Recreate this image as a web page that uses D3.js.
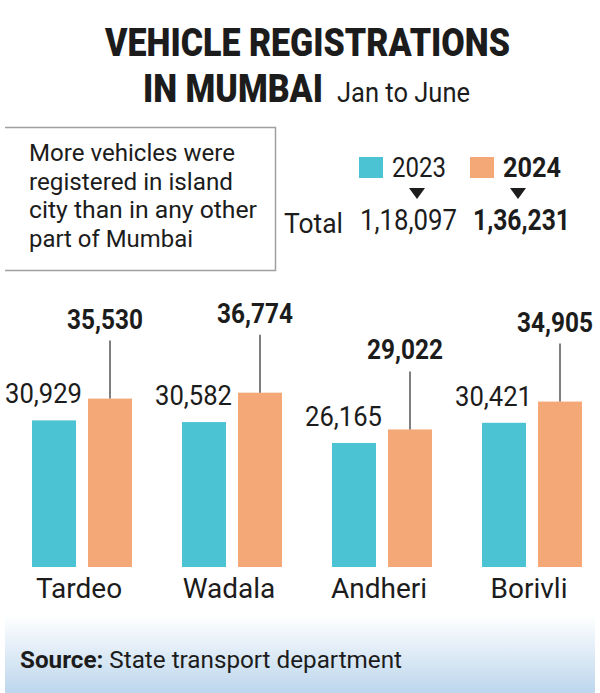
<!DOCTYPE html>
<html>
<head>
<meta charset="utf-8">
<script src="https://cdn.jsdelivr.net/npm/d3@7"></script>
<style>
  html, body { margin: 0; padding: 0; background: #fff; }
  svg { display: block; }
  text { font-family: Roboto, "Liberation Sans", sans-serif; fill: #1c1c1c; }
</style>
</head>
<body>
<svg id="chart" width="600" height="693"></svg>
<script>
// ---- data ----
const categories = ["Tardeo", "Wadala", "Andheri", "Borivli"];
const years = ["2023", "2024"];
const values2023 = [30929, 30582, 26165, 30421];
const values2024 = [35530, 36774, 29022, 34905];
const totals = [118097, 136231];
const titleLines = ["VEHICLE REGISTRATIONS", "IN MUMBAI"];
const subtitle = "Jan to June";
const noteLines = ["More vehicles were", "registered in island", "city than in any other", "part of Mumbai"];
const sourceLabel = "Source:";
const sourceText = "State transport department";
const colors = { "2023": "#4cc3d3", "2024": "#f4a878" };

// Indian digit grouping: 1,18,097
function fmtIN(n) {
  const s = String(Math.round(n));
  if (s.length <= 3) return s;
  const last3 = s.slice(-3);
  let rest = s.slice(0, -3);
  const parts = [];
  while (rest.length > 2) { parts.unshift(rest.slice(-2)); rest = rest.slice(0, -2); }
  if (rest.length) parts.unshift(rest);
  return parts.join(",") + "," + last3;
}
const fmtUS = d3.format(",");

const svg = d3.select("#chart");

function txt(g, str, x, y, size, opts = {}) {
  const t = g.append("text")
    .attr("x", x).attr("y", y)
    .attr("font-size", size)
    .attr("font-weight", opts.weight || 400)
    .attr("text-anchor", opts.anchor || "start")
    .text(str);
  if (opts.width) t.attr("textLength", opts.width).attr("lengthAdjust", "spacingAndGlyphs");
  return t;
}

// ---- title ----
txt(svg, titleLines[0], 105, 56, 39, { weight: 900, width: 405 });
txt(svg, titleLines[1], 143, 102, 39, { weight: 900, width: 180 });
txt(svg, subtitle, 337, 102, 28, { width: 133 });

// ---- note box (top, right, bottom borders) ----
const box = svg.append("g");
box.append("path")
  .attr("d", "M5,127.5 H275.5 V270.5 H5")
  .attr("fill", "none").attr("stroke", "#a0a0a0").attr("stroke-width", 1.5);
const noteW = [206, 204, 228, 164];
noteLines.forEach((l, i) => txt(box, l, 29, 161 + i * 28.7, 23, { width: noteW[i] }));

// ---- legend + totals ----
const legX = { "2023": 359, "2024": 470 };
const lg = svg.append("g");
years.forEach((yr, i) => {
  lg.append("rect").attr("x", legX[yr]).attr("y", 157).attr("width", 24).attr("height", 21).attr("fill", colors[yr]);
  txt(lg, yr, legX[yr] + 33, 177, 27, { weight: i ? 700 : 400, width: i ? 58 : 54 });
  const cx = legX[yr] + 33 + (i ? 15 : 25);
  lg.append("path")
    .attr("d", `M${cx - 8},188 L${cx + 8},188 L${cx},199 Z`)
    .attr("fill", "#1c1c1c");
});
txt(lg, "Total", 284, 233, 28, { width: 59 });
totals.forEach((v, i) => {
  txt(lg, fmtIN(v), i ? 473 : 360, 230, 29, { weight: i ? 700 : 400, width: 97 });
});

// ---- bars ----
const x0 = d3.scaleBand().domain(categories).range([7, 607]).paddingInner(1 / 3).paddingOuter(1 / 6);
const x1 = d3.scaleBand().domain(years).range([0, x0.bandwidth()]).paddingInner(12 / 56);
const y = d3.scaleLinear().domain([0, 40000]).range([567, 377.4]);

const rows = categories.map((c, i) => ({ cat: c, "2023": values2023[i], "2024": values2024[i] }));

const groups = svg.append("g").selectAll("g").data(rows).join("g")
  .attr("transform", d => `translate(${x0(d.cat)},0)`);

groups.selectAll("rect").data(d => years.map(k => ({ key: k, value: d[k] }))).join("rect")
  .attr("x", d => x1(d.key))
  .attr("y", d => y(d.value))
  .attr("width", x1.bandwidth())
  .attr("height", d => y(0) - y(d.value))
  .attr("fill", d => colors[d.key]);

// 2023 value labels
groups.append("text")
  .attr("x", x0.bandwidth() / 2)
  .attr("y", d => y(d["2023"]) - 17)
  .attr("text-anchor", "end")
  .attr("font-size", 27)
  .attr("textLength", 77).attr("lengthAdjust", "spacingAndGlyphs")
  .text(d => fmtUS(d["2023"]));

// 2024 leader lines + labels
const cx24 = x1("2024") + x1.bandwidth() / 2;
groups.append("line")
  .attr("x1", cx24).attr("x2", cx24)
  .attr("y1", d => y(d["2024"]) - 58)
  .attr("y2", d => y(d["2024"]))
  .attr("stroke", "#555").attr("stroke-width", 1.5);
groups.append("text")
  .attr("x", cx24 - 5)
  .attr("y", d => y(d["2024"]) - 70)
  .attr("text-anchor", "middle")
  .attr("font-size", 27).attr("font-weight", 700)
  .attr("textLength", 76).attr("lengthAdjust", "spacingAndGlyphs")
  .text(d => fmtUS(d["2024"]));

// category labels
groups.append("text")
  .attr("x", x0.bandwidth() / 2 - 3)
  .attr("y", 598)
  .attr("text-anchor", "middle")
  .attr("font-size", 28)
  .text(d => d.cat);

// ---- footer ----
const defs = svg.append("defs");
const grad = defs.append("linearGradient").attr("id", "foot").attr("x1", 0).attr("y1", 0).attr("x2", 0).attr("y2", 1);
grad.append("stop").attr("offset", "0%").attr("stop-color", "#ffffff");
grad.append("stop").attr("offset", "35%").attr("stop-color", "#e8f1f9");
grad.append("stop").attr("offset", "100%").attr("stop-color", "#bcd6ec");
svg.append("rect").attr("x", 5).attr("y", 615).attr("width", 590).attr("height", 78).attr("fill", "url(#foot)");
const ft = svg.append("text").attr("x", 20).attr("y", 668).attr("font-size", 23.5)
  .attr("textLength", 382).attr("lengthAdjust", "spacingAndGlyphs");
ft.append("tspan").attr("font-weight", 700).text(sourceLabel + " ");
ft.append("tspan").text(sourceText);
</script>
</body>
</html>
